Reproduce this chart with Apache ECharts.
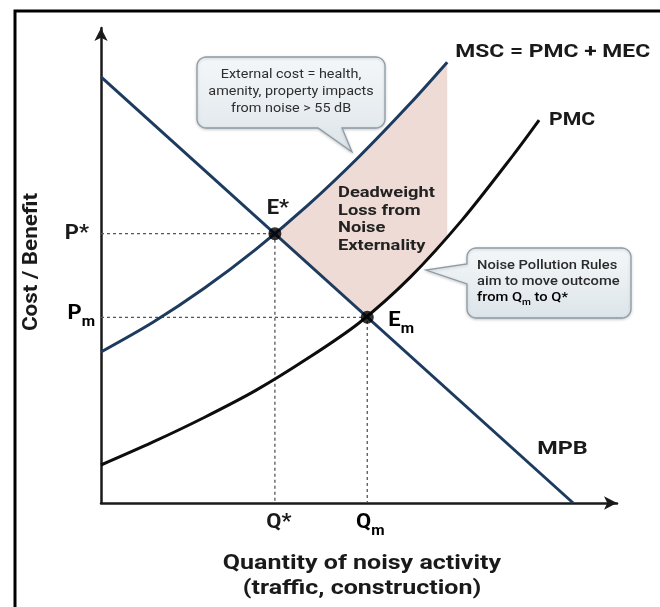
<!DOCTYPE html>
<html>
<head>
<meta charset="utf-8">
<title>Noise externality</title>
<script src="https://cdn.jsdelivr.net/npm/echarts@6/dist/echarts.min.js"></script>
<style>
  html, body { margin: 0; padding: 0; background: #fff; }
  #chart { width: 660px; height: 607px; }
</style>
</head>
<body>
<div id="chart"></div>
<script>
// curves, in axis units (both axes run 0..100)
const mpbCurve = [[0, 89.7], [91.5, 0]];
const mscCurve = [[0, 31.8], [10, 38.0], [20, 45.2], [30, 53.4], [40, 62.6], [50, 72.9], [60, 84.2], [67.1, 92.8]];
const pmcCurve = [[0, 8.0], [10, 12.8], [20, 18.0], [30, 23.7], [40, 30.4], [50, 37.9], [60, 47.6], [70, 59.6], [80, 73.4], [84.9, 80.6]];
const optimum = [33.7, 56.7];   // E*  (Q*, P*)
const market = [51.6, 39.1];    // Em  (Qm, Pm)
// deadweight loss: up MSC from E*, down at the right edge, back along PMC to Em
const dwlShape = [[33.7, 56.7], [40, 62.6], [45, 67.6], [50, 72.9], [55, 78.4], [60, 84.2], [67.1, 92.8],
                  [67.1, 56.0], [64, 52.2], [60, 47.6], [55, 42.6], [51.6, 39.1]];

const FONT = 'Roboto, "Noto Sans", sans-serif';
const navy = '#1d3b5f';
const ink = '#1a1a1a';

const chart = echarts.init(document.getElementById('chart'));

const axisCommon = {
    type: 'value',
    min: 0,
    max: 100,
    axisLine: {
        show: true,
        symbol: ['none', 'arrow'],
        symbolSize: [10, 13],
        lineStyle: { color: ink, width: 2.5 }
    },
    axisTick: { show: false },
    axisLabel: { show: false },
    splitLine: { show: false }
};

function guide (p) {
    return {
        type: 'line',
        data: [[0, p[1]], [p[0], p[1]], [p[0], 0]],
        symbol: 'none',
        silent: true,
        z: 1,
        lineStyle: { color: '#555', width: 1.3, type: [3, 3] }
    };
}

const option = {
    backgroundColor: '#fff',
    animation: false,
    grid: { left: 101, top: 28, right: 43, bottom: 104 },
    xAxis: axisCommon,
    yAxis: axisCommon,
    series: [
        {
            type: 'custom',
            data: [0],
            z: 0,
            renderItem: function (params, api) {
                return {
                    type: 'polygon',
                    shape: { points: dwlShape.map(p => api.coord(p)) },
                    style: { fill: '#eedbd5' }
                };
            }
        },
        guide(optimum),
        guide(market),
        {
            type: 'line', data: mpbCurve, symbol: 'none', z: 3,
            lineStyle: { color: navy, width: 3 }
        },
        {
            type: 'line', data: mscCurve, symbol: 'none', smooth: 0.3, z: 3,
            lineStyle: { color: navy, width: 3 }
        },
        {
            type: 'line', data: pmcCurve, symbol: 'none', smooth: 0.3, z: 3,
            lineStyle: { color: '#0d0d0d', width: 3 }
        },
        {
            type: 'scatter', data: [optimum, market], symbolSize: 13, z: 5,
            itemStyle: { color: '#000' }
        }
    ]
};
chart.setOption(option);

// callout outline: rounded box plus a tail, as polygon points
function arc (cx, cy, r, a0, a1) {
    const pts = [];
    for (let i = 0; i <= 6; i++) {
        const a = a0 + (a1 - a0) * i / 6;
        pts.push([cx + r * Math.cos(a), cy + r * Math.sin(a)]);
    }
    return pts;
}
function calloutPoints (x0, y0, x1, y1, r, tail) {
    const P = Math.PI;
    let pts = [];
    pts = pts.concat(arc(x0 + r, y0 + r, r, P, 1.5 * P));          // top-left
    pts = pts.concat(arc(x1 - r, y0 + r, r, 1.5 * P, 2 * P));      // top-right
    pts = pts.concat(arc(x1 - r, y1 - r, r, 0, 0.5 * P));          // bottom-right
    if (tail.side === 'bottom') {
        pts.push([tail.b, y1], tail.tip, [tail.a, y1]);
    }
    pts = pts.concat(arc(x0 + r, y1 - r, r, 0.5 * P, P));          // bottom-left
    if (tail.side === 'left') {
        pts.push([x0, tail.b], tail.tip, [x0, tail.a]);
    }
    return pts;
}

const boxStyle = {
    fill: {
        type: 'linear', x: 0, y: 0, x2: 0, y2: 1,
        colorStops: [{ offset: 0, color: '#f4f7f9' }, { offset: 1, color: '#dde5ea' }]
    },
    stroke: '#8d9ba6',
    lineWidth: 1.3,
    shadowBlur: 3,
    shadowOffsetY: 1,
    shadowColor: 'rgba(0,0,0,0.18)'
};

// the picture's lettering is wider than Roboto, hence the horizontal stretch
function txt (x, y, text, size, extra, sx) {
    return {
        type: 'text', x: x, y: y, z: 20, scaleX: sx || 1,
        style: Object.assign({
            text: text, fontSize: size, fontFamily: FONT, fontWeight: 'bold',
            fill: ink, align: 'left', verticalAlign: 'middle'
        }, extra || {})
    };
}

function subTxt (x, y, main, sub, align, sx) {
    return {
        type: 'text', x: x, y: y, z: 20, scaleX: sx || 1,
        style: {
            text: '{a|' + main + '}{b|' + sub + '}', align: align, verticalAlign: 'middle',
            rich: {
                a: { fontSize: 20, fontFamily: FONT, fontWeight: 'bold', color: ink, lineHeight: 30 },
                b: { fontSize: 14, fontFamily: FONT, fontWeight: 'bold', color: ink, lineHeight: 14, verticalAlign: 'bottom' }
            }
        }
    };
}

const pOpt = chart.convertToPixel({ gridIndex: 0 }, optimum);
const pMkt = chart.convertToPixel({ gridIndex: 0 }, market);
const pMsc = chart.convertToPixel({ gridIndex: 0 }, mscCurve[mscCurve.length - 1]);
const pPmc = chart.convertToPixel({ gridIndex: 0 }, pmcCurve[pmcCurve.length - 1]);
const pMpb = chart.convertToPixel({ gridIndex: 0 }, mpbCurve[1]);

const calloutInk = { fill: '#2e2e2e', fontWeight: 'normal' };

chart.setOption({
    graphic: [
        // outer frame (left and top edges are the only ones inside the picture)
        {
            type: 'polyline', z: 30, silent: true,
            shape: { points: [[15, 620], [15, 11], [680, 11]] },
            style: { fill: 'none', stroke: '#000', lineWidth: 3 }
        },
        // callouts
        {
            type: 'polygon', z: 10,
            shape: { points: calloutPoints(197, 57, 385, 128, 9, { side: 'bottom', a: 318, b: 342, tip: [352, 152] }) },
            style: boxStyle
        },
        txt(291, 75, 'External cost = health,', 12.5, Object.assign({ align: 'center' }, calloutInk), 1.15),
        txt(291, 92, 'amenity, property impacts', 12.5, Object.assign({ align: 'center' }, calloutInk), 1.15),
        txt(291, 109, 'from noise > 55 dB', 12.5, Object.assign({ align: 'center' }, calloutInk), 1.15),
        {
            type: 'polygon', z: 10,
            shape: { points: calloutPoints(467, 248, 631, 318, 9, { side: 'left', a: 264, b: 284, tip: [426, 270] }) },
            style: boxStyle
        },
        txt(477, 266, 'Noise Pollution Rules', 13, { fill: '#2a2a2a', fontWeight: 500 }, 1.13),
        txt(477, 282, 'aim to move outcome', 13, { fill: '#2a2a2a', fontWeight: 500 }, 1.13),
        {
            type: 'text', x: 477, y: 298, z: 20, scaleX: 1.13,
            style: {
                text: '{a|from Q}{b|m}{a| to Q*}', verticalAlign: 'middle', align: 'left',
                rich: {
                    a: { fontSize: 13, fontFamily: FONT, fontWeight: 500, color: '#2a2a2a', lineHeight: 18 },
                    b: { fontSize: 9, fontFamily: FONT, fontWeight: 500, color: '#2a2a2a', lineHeight: 9, verticalAlign: 'bottom' }
                }
            }
        },
        // curve names
        txt(pMsc[0] + 8, 52, 'MSC = PMC + MEC', 18, null, 1.27),
        txt(pPmc[0] + 10, pPmc[1], 'PMC', 18, null, 1.18),
        txt(pMpb[0] - 36, 449, 'MPB', 18, null, 1.3),
        // deadweight loss text
        txt(338, 193, 'Deadweight', 15.5, { fill: '#222' }, 1.18),
        txt(338, 211, 'Loss from', 15.5, { fill: '#222' }, 1.18),
        txt(338, 228, 'Noise', 15.5, { fill: '#222' }, 1.18),
        txt(338, 246, 'Externality', 15.5, { fill: '#222' }, 1.18),
        // equilibrium labels
        txt(pOpt[0] + 3, pOpt[1] - 25, 'E*', 20, { align: 'center' }, 1.1),
        subTxt(pMkt[0] + 21, pMkt[1] + 4, 'E', 'm', 'left', 1.1),
        // price / quantity marks
        txt(89, pOpt[1], 'P*', 20, { align: 'right' }, 1.1),
        subTxt(95, pMkt[1] - 3, 'P', 'm', 'right', 1.1),
        txt(pOpt[0] + 4, 523, 'Q*', 20, { align: 'center' }, 1.1),
        subTxt(pMkt[0] + 3, 523, 'Q', 'm', 'center', 1.1),
        // axis titles
        txt(362, 564, 'Quantity of noisy activity', 21, { align: 'center' }, 1.19),
        txt(362, 589, '(traffic, construction)', 21, { align: 'center' }, 1.19),
        {
            type: 'text', x: 32, y: 262, rotation: Math.PI / 2, z: 20, scaleX: 1.12,
            style: {
                text: 'Cost / Benefit', fontSize: 20, fontFamily: FONT, fontWeight: 'bold',
                fill: ink, align: 'center', verticalAlign: 'middle'
            }
        }
    ]
});
</script>
</body>
</html>
